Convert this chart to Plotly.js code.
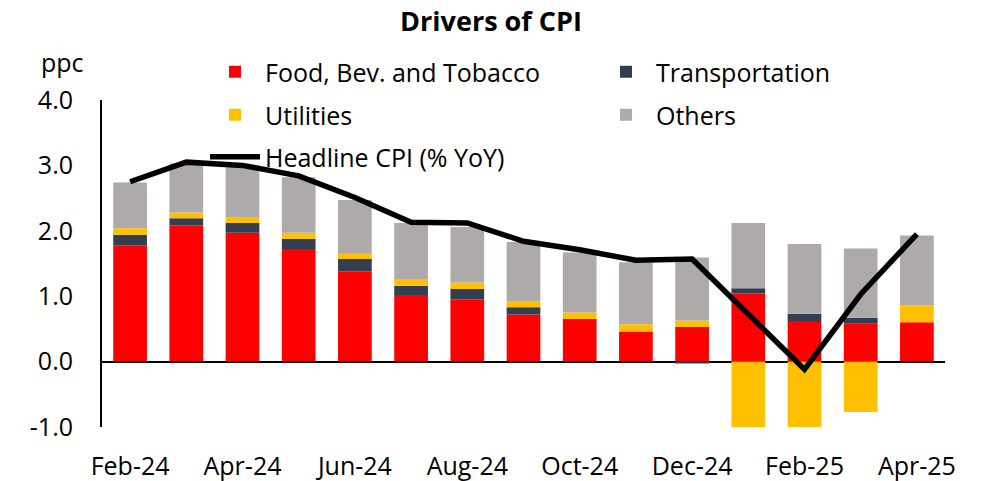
<!DOCTYPE html>
<html>
<head>
<meta charset="utf-8">
<script src="https://cdn.plot.ly/plotly-3.0.1.min.js"></script>
<style>html,body{margin:0;padding:0;background:#fff;}#chart{width:982px;height:481px;}</style>
</head>
<body>
<div id="chart"></div>
<script>
const months = ["Feb-24","Mar-24","Apr-24","May-24","Jun-24","Jul-24","Aug-24","Sep-24","Oct-24","Nov-24","Dec-24","Jan-25","Feb-25","Mar-25","Apr-25"];
const tickLabels = ["Feb-24","Apr-24","Jun-24","Aug-24","Oct-24","Dec-24","Feb-25","Apr-25"];
const yTickVals = [-1, 0, 1, 2, 3, 4];
const yTickText = ["-1.0","0.0","1.0","2.0","3.0","4.0"];
const food      = [1.78, 2.08, 1.97, 1.72, 1.38, 1.02, 0.95, 0.72, 0.65, 0.46, 0.53, 1.04, 0.62, 0.58, 0.60];
const transport = [0.16, 0.11, 0.15, 0.16, 0.19, 0.14, 0.16, 0.11, 0.00, 0.00, -0.03, 0.08, 0.11, 0.09, 0.00];
const utilities = [0.10, 0.09, 0.09, 0.09, 0.08, 0.09, 0.10, 0.09, 0.10, 0.11, 0.10, -1.04, -1.04, -0.77, 0.26];
const others    = [0.70, 0.75, 0.79, 0.85, 0.82, 0.87, 0.85, 0.91, 0.92, 0.95, 0.96, 1.00, 1.07, 1.06, 1.07];
const headline  = [2.75, 3.05, 3.00, 2.84, 2.51, 2.13, 2.12, 1.84, 1.71, 1.55, 1.57, 0.72, -0.12, 1.03, 1.95];

const FONT = "Open Sans, sans-serif";
const fsz = 25;

const traces = [
  {type:"bar", name:"Food, Bev. and Tobacco", x:months, y:food, marker:{color:"#FF0000"}, legend:"legend", showlegend:true},
  {type:"bar", name:"Transportation", x:months, y:transport, marker:{color:"#333F50"}, legend:"legend2", showlegend:true},
  {type:"bar", name:"Utilities", x:months, y:utilities, marker:{color:"#FFC000"}, legend:"legend3", showlegend:true},
  {type:"bar", name:"Others", x:months, y:others, marker:{color:"#AEAAAA"}, legend:"legend4", showlegend:true},
  {type:"scatter", mode:"lines", name:"Headline CPI (% YoY)", x:months, y:headline, line:{color:"#000000", width:5.5}, legend:"legend5", showlegend:true}
];

function lg(px, py){
  return {x:(px-102)/843, y:(427-py)/327, xanchor:"left", yanchor:"middle", xref:"paper", yref:"paper",
          bgcolor:"rgba(0,0,0,0)", font:{family:FONT, size:fsz, color:"#000"}, itemwidth:50, borderwidth:0, visible:true};
}

const layout = {
  width:982, height:481,
  showlegend:true,
  margin:{l:102, r:37, t:100, b:54},
  paper_bgcolor:"#fff", plot_bgcolor:"rgba(0,0,0,0)",
  barmode:"relative", bargap:0.4,
  font:{family:FONT, size:fsz, color:"#000"},
  title:{text:"<b>Drivers of CPI</b>", x:0.5, xref:"container", xanchor:"center", y:0.975, yref:"container", font:{family:FONT, size:27, color:"#000"}},
  xaxis:{type:"category", tickvals:tickLabels, ticktext:tickLabels, showline:false, showgrid:false, zeroline:false, ticks:"", tickfont:{size:fsz}, ticklabelstandoff:22},
  yaxis:{range:[-1,4], tickvals:yTickVals, ticktext:yTickText, showline:true, linecolor:"#000", linewidth:2, showgrid:false, zeroline:true, zerolinecolor:"#000", zerolinewidth:2, ticks:"", tickfont:{size:fsz}, ticklabelstandoff:22},
  legend:lg(205,72), legend2:lg(596,72), legend3:lg(205,115), legend4:lg(596,115), legend5:lg(205,157),
  annotations:[{text:"ppc", xref:"paper", yref:"paper", x:(62-102)/843, y:(427-62)/327, xanchor:"center", yanchor:"middle", showarrow:false, font:{family:FONT, size:fsz, color:"#000"}}]
};

Plotly.newPlot("chart", traces, layout, {displayModeBar:false, staticPlot:true});
</script>
</body>
</html>
